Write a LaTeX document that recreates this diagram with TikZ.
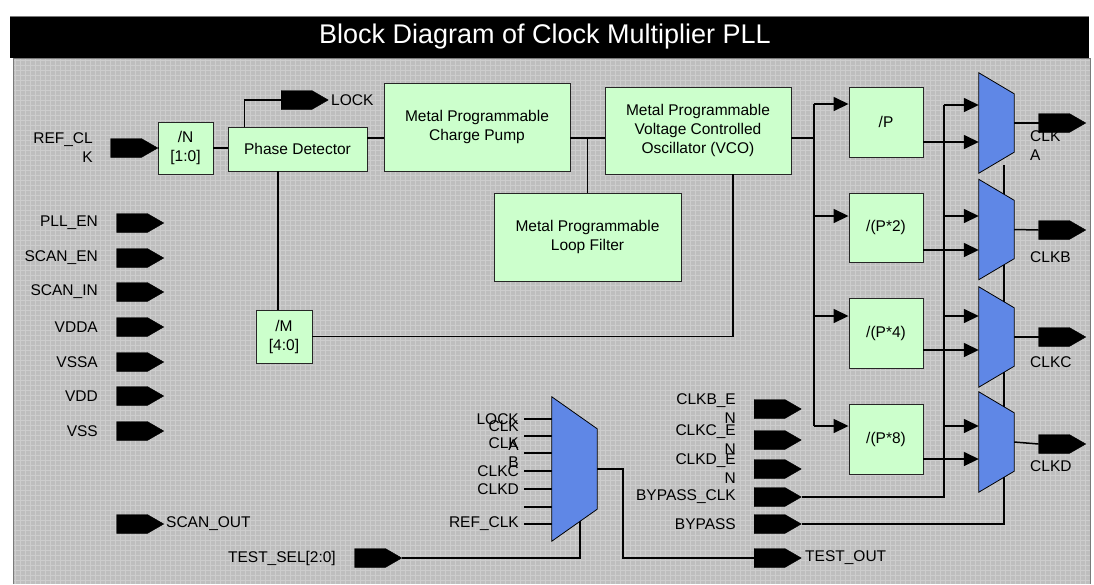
\documentclass[tikz,border=0pt]{standalone}
\usepackage{fontspec}
\setmainfont{Liberation Sans}
\usetikzlibrary{shapes.symbols,arrows.meta,calc}
\definecolor{boxgreen}{HTML}{CCFFCC}
\definecolor{muxblue}{HTML}{5F87E6}
\definecolor{panelgray}{HTML}{BEBEBE}
\definecolor{gridgray}{HTML}{CDCDCD}
\definecolor{edgegray}{HTML}{7A7A7A}
\newcommand\lbl{\fontsize{15.5}{19}\selectfont}
% multiplexer: invisible frame plus trapezoid body (long side on the left)
\newcommand\muxbody[2]{%
  \filldraw[muxblue, draw=black, line width=0.8pt]
    (#1.north west) -- ([yshift=-#2]#1.north east) --
    ([yshift=#2]#1.south east) -- (#1.south west) -- cycle;}
\begin{document}
\begin{tikzpicture}[x=1pt,y=-1pt,
  wire/.style={line width=1.5pt, black},
  arr/.style={wire, -{Triangle[length=15pt,width=14pt]}},
  blk/.style={draw=black!85, line width=0.9pt, fill=boxgreen, align=center,
    font=\lbl, inner sep=0pt},
  pin/.style={signal, signal to=east, signal pointer angle=60, fill=black,
    draw=black, minimum width=47pt, minimum height=19pt, inner sep=0pt},
  lab/.style={font=\lbl, inner sep=0pt},
  muxframe/.style={rectangle, inner sep=0pt, minimum width=35pt, minimum height=100pt}
]
\useasboundingbox (0,0) rectangle (1094,584);
\fill[white] (0,0) rectangle (1094,584);

% title bar
\fill[black] (10,16) rectangle (1089,58);
\draw[edgegray, line width=0.8pt] (10,16) -- (1089,16);
\node[text=white, font=\fontsize{27}{30}\selectfont] (title) at (545,37)
  {Block Diagram of Clock Multiplier PLL};

% gridded panel
\fill[panelgray] (13,58) rectangle (1090,584);
\draw[gridgray, line width=0.7pt, step=5pt] (13,58) grid (1090,584);
\draw[edgegray, line width=1pt] (13,584) -- (13,58) -- (1090,58) -- (1090,584);

% ---------------- loop blocks ----------------
\node[blk, minimum width=55pt, minimum height=52pt] (N) at (185.5,148) {/N\\{[1:0]}};
\node[blk, minimum width=139pt, minimum height=44pt] (PD) at (297.5,149) {Phase Detector};
\node[blk, minimum width=186pt, minimum height=88pt] (CP) at (477,127)
  {Metal Programmable\\Charge Pump};
\node[blk, minimum width=186pt, minimum height=87pt] (VCO) at (698,130.5)
  {Metal Programmable\\Voltage Controlled\\Oscillator (VCO)};
\node[blk, minimum width=187pt, minimum height=88pt] (LF) at (587.5,237)
  {Metal Programmable\\Loop Filter};
\node[blk, minimum width=56pt, minimum height=53pt] (M) at (284,336.5) {/M\\{[4:0]}};

% ---------------- post dividers ----------------
\node[blk, minimum width=74pt, minimum height=70pt] (P1) at (886,122) {/P};
\node[blk, minimum width=74pt, minimum height=69pt] (P2) at (886,227.5) {/(P*2)};
\node[blk, minimum width=74pt, minimum height=70pt] (P4) at (886,333) {/(P*4)};
\node[blk, minimum width=74pt, minimum height=70pt] (P8) at (886,439) {/(P*8)};

% ---------------- mux frames ----------------
\node[muxframe] (muxA) at (996.5,123) {};
\node[muxframe] (muxB) at (996.5,229.5) {};
\node[muxframe] (muxC) at (996.5,337) {};
\node[muxframe] (muxD) at (996.5,442) {};
\node[muxframe, minimum width=45pt, minimum height=144pt] (tmux) at (574.5,469) {};

% ---------------- pins ----------------
\node[pin] (refclk) at (126,148) {};
\node[pin] (lock) at (296.5,100) {};
\node[pin] (pllen) at (132,223) {};
\node[pin] (scanen) at (132,258) {};
\node[pin] (scanin) at (132,292) {};
\node[pin] (vdda) at (132,327) {};
\node[pin] (vssa) at (132,362) {};
\node[pin] (vdd) at (132,396) {};
\node[pin] (vss) at (132,431) {};
\node[pin] (scanout) at (132,524) {};
\node[pin] (testsel) at (370,558) {};
\node[pin] (clkben) at (769.5,409) {};
\node[pin] (clkcen) at (769.5,440) {};
\node[pin] (clkden) at (769.5,469) {};
\node[pin] (bpclk) at (769.5,497) {};
\node[pin] (bypass) at (769.5,524) {};
\node[pin] (testout) at (769.5,558) {};

% ---------------- loop wiring ----------------
\draw[wire] (refclk.east) -- (N.west |- refclk.east);
\draw[wire] (N.east) -- (PD.west |- N.east);
\draw[wire] ($(PD.north west)+(17,0)$) |- (lock.west);
\draw[wire] (PD.east |- 0,138) -- (CP.west |- 0,138);
\draw[wire] (CP.east |- 0,138) -- (VCO.west |- 0,138);
\draw[wire] (LF.north) -- (LF.north |- 0,138);
\draw[wire] (PD.south -| 278,0) -- (M.north -| 278,0);
\draw[wire] (VCO.south -| 733,0) |- (M.east);

% ---------------- divider fan-out ----------------
\coordinate (busTop) at (814,104);
\coordinate (busBot) at (814,426);
\draw[wire] (VCO.east |- 0,138) -- (busTop |- 0,138);
\draw[wire] (busTop) -- (busBot);
\draw[arr] (busTop) -- (P1.west |- busTop);
\draw[arr] (busTop |- 0,216) -- (P2.west |- 0,216);
\draw[arr] (busTop |- 0,316) -- (P4.west |- 0,316);
\draw[arr] (busBot) -- (P8.west |- busBot);

% ---------------- bypass clock and bypass select ----------------
\coordinate (bcTop) at (944,105);
\draw[wire] (bpclk.east) -| (bcTop);
\draw[arr] (bcTop) -- (muxA.west |- bcTop);
\draw[arr] (bcTop |- 0,216) -- (muxB.west |- 0,216);
\draw[arr] (bcTop |- 0,316) -- (muxC.west |- 0,316);
\draw[arr] (bcTop |- 0,426) -- (muxD.west |- 0,426);
\draw[wire] (bypass.east) -| (1004,165);

% divided clocks into the muxes
\draw[arr] (P1.east |- 0,142) -- (muxA.west |- 0,142);
\draw[arr] (P2.east |- 0,250) -- (muxB.west |- 0,250);
\draw[arr] (P4.east |- 0,350) -- (muxC.west |- 0,350);
\draw[arr] (P8.east |- 0,459) -- (muxD.west |- 0,459);

% ---------------- test mux wiring ----------------
\foreach \yy in {419,436,453,471,489,507,524}
  \draw[wire] (524,\yy) -- (tmux.west |- 0,\yy);
\draw[wire] (testsel.east) -| (580,515);
\coordinate (toBend) at (623,558);
\draw[wire] (tmux.east) -| (toBend) -- (testout.west);

% output labels sit under the output pins
\node[lab, anchor=west, align=left] (labA) at (1030,145.5) {CLK\\A};
\node[lab, anchor=west] (labB) at (1030,257) {CLKB};
\node[lab, anchor=west] (labC) at (1030,362) {CLKC};
\node[lab, anchor=west] (labD) at (1030,466) {CLKD};

% mux outputs
\node[pin] (outA) at (1054,123) {};
\node[pin] (outB) at (1054,230) {};
\node[pin] (outC) at (1054,337) {};
\node[pin] (outD) at (1054,444) {};
\draw[wire] (muxA.east) -- (outA.west);
\draw[wire] (muxB.east) -- (outB.west);
\draw[wire] (muxC.east) -- (outC.west);
\draw[wire] (muxD.east) -- (outD.west);

% mux bodies
\muxbody{muxA}{21pt}
\muxbody{muxB}{21pt}
\muxbody{muxC}{21pt}
\muxbody{muxD}{21pt}
\muxbody{tmux}{32pt}

% ---------------- pin labels ----------------
\node[lab, anchor=east, align=right] at (93,148) {REF\_CL\\K};
\node[lab, anchor=west] at (331,100) {LOCK};
\node[lab, anchor=east] at (98,223) {PLL\_EN};
\node[lab, anchor=east] at (98,258) {SCAN\_EN};
\node[lab, anchor=east] at (98,292) {SCAN\_IN};
\node[lab, anchor=east] at (98,327) {VDDA};
\node[lab, anchor=east] at (98,362) {VSSA};
\node[lab, anchor=east] at (98,396) {VDD};
\node[lab, anchor=east] at (98,431) {VSS};
\node[lab, anchor=west] at (166,524) {SCAN\_OUT};
\node[lab, anchor=east] at (336,558) {TEST\_SEL[2:0]};
\node[lab, anchor=east, align=right] at (736,409) {CLKB\_E\\N};
\node[lab, anchor=east, align=right] at (736,440) {CLKC\_E\\N};
\node[lab, anchor=east, align=right] at (736,469) {CLKD\_E\\N};
\node[lab, anchor=east] at (736,497) {BYPASS\_CLK};
\node[lab, anchor=east] at (736,524) {BYPASS};
\node[lab, anchor=west] at (805,558) {TEST\_OUT};

% test mux input labels
\node[lab, anchor=east] at (519,419) {LOCK};
\node[lab, anchor=east, align=right] at (519,436) {CLK\\A};
\node[lab, anchor=east, align=right] at (519,453) {CLK\\B};
\node[lab, anchor=east] at (519,471) {CLKC};
\node[lab, anchor=east] at (519,489) {CLKD};
\node[lab, anchor=east] at (519,524) {REF\_CLK};
\end{tikzpicture}
\end{document}
